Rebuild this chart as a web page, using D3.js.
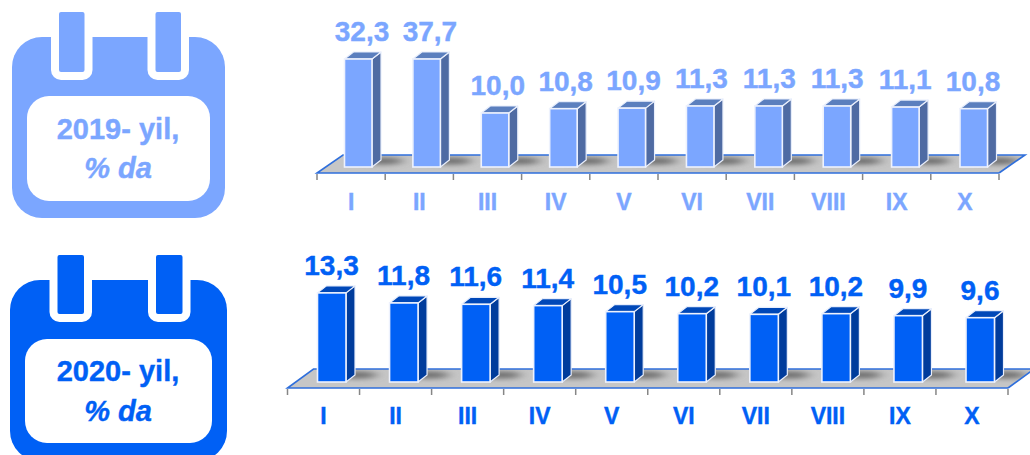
<!DOCTYPE html>
<html>
<head>
<meta charset="utf-8">
<script src="https://cdnjs.cloudflare.com/ajax/libs/d3/7.8.5/d3.min.js"></script>
<style>
    html, body { margin: 0; padding: 0; background: #fff; overflow: hidden; }
    text { font-family: "Liberation Sans", Arial, sans-serif; font-weight: bold; }
</style>
</head>
<body>
<svg id="fig" width="1030" height="455"></svg>
<script>
'use strict';

const months = ['I', 'II', 'III', 'IV', 'V', 'VI', 'VII', 'VIII', 'IX', 'X'];
const values_2019 = [32.3, 37.7, 10.0, 10.8, 10.9, 11.3, 11.3, 11.3, 11.1, 10.8];
const values_2020 = [13.3, 11.8, 11.6, 11.4, 10.5, 10.2, 10.1, 10.2, 9.9, 9.6];
const axis_max = 20; // the 2019 axis is cut off here, so the first two bars stop at the top

const svg = d3.select('#fig');
const defs = svg.append('defs');
defs.append('filter').attr('id', 'blur')
    .attr('x', '-50%').attr('y', '-150%').attr('width', '200%').attr('height', '400%')
    .append('feGaussianBlur').attr('stdDeviation', '6 2.5');

const fmt = v => v.toFixed(1).replace('.', ',');

function draw_calendar(c) {
    const g = svg.append('g');
    g.append('rect').attr('x', c.x0).attr('y', c.y0)
        .attr('width', c.x1 - c.x0).attr('height', c.y1 - c.y0)
        .attr('rx', 30).attr('fill', c.color);
    g.append('rect').attr('x', c.x0 + 15).attr('y', c.inner_y0)
        .attr('width', c.x1 - c.x0 - 30).attr('height', c.inner_y1 - c.inner_y0)
        .attr('rx', 22).attr('fill', '#fff');
    c.tabs.forEach(tx => {
        // white cut round each ring
        g.append('path')
            .attr('d', 'M' + (tx - 8) + ',' + c.y0 + 'V' + (c.tab_y1 - 2) +
                'a10,10 0 0 0 10,10H' + (tx + c.tab_w - 2) +
                'a10,10 0 0 0 10,-10V' + c.y0 + 'Z')
            .attr('fill', '#fff');
        g.append('rect').attr('x', tx).attr('y', c.tab_y0)
            .attr('width', c.tab_w).attr('height', c.tab_y1 - c.tab_y0)
            .attr('rx', 2).attr('fill', c.color);
    });
    const cx = (c.x0 + c.x1) / 2 - 0.5;
    g.append('text').attr('x', cx).attr('y', c.line1_y)
        .attr('text-anchor', 'middle').attr('font-size', 29)
        .attr('fill', c.color).attr('stroke', c.color).attr('stroke-width', 0.4)
        .text(c.line1);
    g.append('text').attr('x', cx).attr('y', c.line2_y)
        .attr('text-anchor', 'middle').attr('font-size', 29)
        .attr('font-style', 'italic')
        .attr('fill', c.color).attr('stroke', c.color).attr('stroke-width', 0.4)
        .text('% da');
}

function draw_chart(c) {
    const g = svg.append('g');
    const x = d3.scaleBand().domain(months).range([c.x0, c.x1]).padding(0);
    // bars and value labels run on slightly different steps than the ticks
    const bx = d3.scalePoint().domain(months).range([c.bar_first, c.bar_last]);
    const lx = d3.scalePoint().domain(months).range([c.label_first, c.label_last]);
    const y = d3.scaleLinear().domain([0, axis_max]).range([c.base_y, c.top_y]).clamp(true);
    const dep = 26;

    // floor
    const clip_id = 'floor' + c.id;
    const floor_pts = [[c.x0, c.axis_y], [c.x1, c.axis_y], [c.x1 + dep, c.back_y], [c.x0 + dep, c.back_y]];
    defs.append('clipPath').attr('id', clip_id)
        .append('polygon').attr('points', floor_pts.join(' '));
    g.append('polygon').attr('points', floor_pts.join(' ')).attr('fill', '#c6c6c6');

    // shadows on the floor beside the bars
    g.append('g').attr('clip-path', 'url(#' + clip_id + ')')
        .selectAll('ellipse').data(months).join('ellipse')
        .attr('cx', d => bx(d) + c.bar_w + 11)
        .attr('cy', c.back_y + 6)
        .attr('rx', 20).attr('ry', 3.5)
        .attr('fill', '#6a6a6a')
        .attr('filter', 'url(#blur)');

    // blue edges
    g.append('polyline')
        .attr('points', [[c.x1, c.axis_y], [c.x0, c.axis_y], [c.x0 + dep, c.back_y], [c.x1 + dep, c.back_y], [c.x1, c.axis_y]].join(' '))
        .attr('fill', 'none').attr('stroke', '#2f6fdc').attr('stroke-width', 1.6);

    // ticks sit between the categories
    g.append('g').selectAll('line').data(d3.range(months.length + 1)).join('line')
        .attr('x1', i => c.x0 + i * x.step()).attr('x2', i => c.x0 + i * x.step())
        .attr('y1', c.axis_y + 1).attr('y2', c.axis_y + 7)
        .attr('stroke', '#868686').attr('stroke-width', 1.5);

    // month labels
    const axis = d3.axisBottom(x).tickSize(0).tickPadding(c.label_pad);
    const ag = g.append('g').attr('transform', 'translate(0,' + c.axis_y + ')').call(axis);
    ag.select('.domain').remove();
    ag.selectAll('text').attr('font-size', 23)
        .style('font-family', '"Liberation Sans", Arial, sans-serif')
        .style('font-weight', 'bold')
        .attr('fill', c.color).attr('stroke', c.color).attr('stroke-width', 0.4);

    // bars
    const bars = g.append('g').selectAll('g').data(c.values).join('g');
    const dx = 9, dy = 7;
    bars.append('polygon').attr('fill', c.side).attr('stroke', '#e8eefc').attr('stroke-width', 1.2)
        .attr('stroke-linejoin', 'round')
        .attr('points', (v, i) => {
            const r = bx(months[i]) + c.bar_w, t = y(v), b = c.base_y;
            return [[r, t], [r + dx, t - dy], [r + dx, b - dy], [r, b]].join(' ');
        });
    bars.append('polygon').attr('fill', c.roof).attr('stroke', '#e8eefc').attr('stroke-width', 1.2)
        .attr('stroke-linejoin', 'round')
        .attr('points', (v, i) => {
            const l = bx(months[i]), r = l + c.bar_w, t = y(v);
            return [[l, t], [l + dx, t - dy], [r + dx, t - dy], [r, t]].join(' ');
        });
    bars.append('rect')
        .attr('x', (v, i) => bx(months[i]))
        .attr('y', v => y(v))
        .attr('width', c.bar_w)
        .attr('height', v => c.base_y - y(v))
        .attr('fill', c.color).attr('stroke', '#eef2fd').attr('stroke-width', 1.6);

    // value labels
    g.append('g').selectAll('text').data(c.values).join('text')
        .attr('x', (v, i) => lx(months[i]))
        .attr('y', v => y(v) - 18)
        .attr('text-anchor', 'middle').attr('font-size', 28)
        .attr('fill', c.color).attr('stroke', c.color).attr('stroke-width', 0.4)
        .text(fmt);
}

draw_calendar({
    color: '#7ba6ff', x0: 12, x1: 225, y0: 37, y1: 218, inner_y0: 96, inner_y1: 201,
    tabs: [59, 155.5], tab_w: 25.5, tab_y0: 12, tab_y1: 72,
    line1: '2019- yil,', line1_y: 139, line2_y: 178
});
draw_calendar({
    color: '#0060f5', x0: 10, x1: 227, y0: 280, y1: 461, inner_y0: 339, inner_y1: 443,
    tabs: [57.5, 156], tab_w: 26.5, tab_y0: 255, tab_y1: 314,
    line1: '2020- yil,', line1_y: 381, line2_y: 421
});

draw_chart({
    id: 'a', values: values_2019, color: '#7ba6ff', side: '#4f6ba3', roof: '#5b7fbe',
    x0: 317, x1: 999, axis_y: 173, back_y: 155, base_y: 167, top_y: 59,
    bar_first: 344.5, bar_last: 960, bar_w: 27.5, label_pad: 20.5,
    label_first: 362, label_last: 973
});
draw_chart({
    id: 'b', values: values_2020, color: '#0060f5', side: '#003c9c', roof: '#0048b8',
    x0: 287.5, x1: 1008, axis_y: 388, back_y: 369, base_y: 382, top_y: 248,
    bar_first: 317.5, bar_last: 966, bar_w: 28.5, label_pad: 20,
    label_first: 331.5, label_last: 980
});
</script>
</body>
</html>
